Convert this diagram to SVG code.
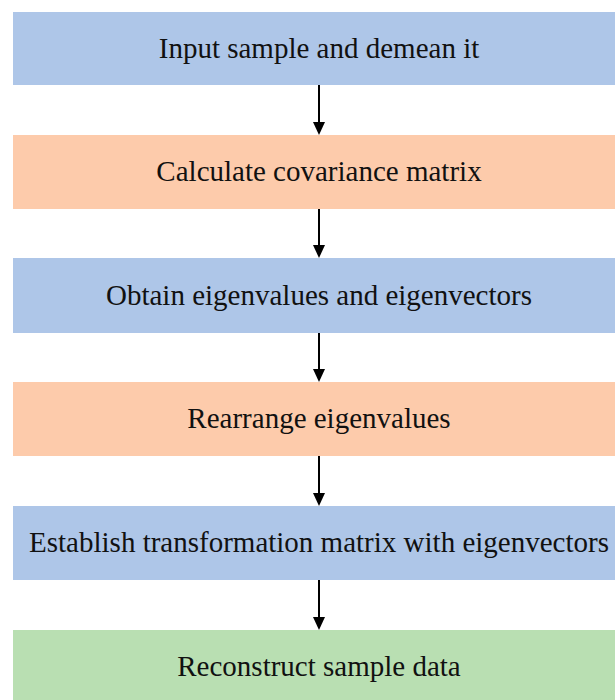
<svg xmlns="http://www.w3.org/2000/svg" width="615" height="700" viewBox="0 0 615 700">
<defs>
<style>
.blue{fill:#aec6e8}
.orange{fill:#fdcbab}
.green{fill:#b9dfb2}
.lbl{font-family:"Liberation Serif","Times New Roman","DejaVu Serif",serif;font-size:29px;fill:#111;text-anchor:middle}
.line{stroke:#000;stroke-width:2}
.head{fill:#000}
</style>
</defs>
<rect width="615" height="700" fill="#fff"/>
<g id="connectors">
<line class="line" x1="319" y1="85" x2="319" y2="123"/>
<path class="head" d="M313,122 L325,122 L319,135 Z"/>
<line class="line" x1="319" y1="209" x2="319" y2="246"/>
<path class="head" d="M313,245 L325,245 L319,258 Z"/>
<line class="line" x1="319" y1="333" x2="319" y2="370"/>
<path class="head" d="M313,369 L325,369 L319,382 Z"/>
<line class="line" x1="319" y1="456" x2="319" y2="494"/>
<path class="head" d="M313,493 L325,493 L319,506 Z"/>
<line class="line" x1="319" y1="580" x2="319" y2="618"/>
<path class="head" d="M313,617 L325,617 L319,630 Z"/>
</g>
<g id="n1"><rect class="blue" x="13" y="12" width="602" height="73"/><text class="lbl" font-family="Liberation Serif, serif" x="319" y="58">Input sample and demean it</text></g>
<g id="n2"><rect class="orange" x="13" y="135" width="602" height="74"/><text class="lbl" font-family="Liberation Serif, serif" x="319" y="181">Calculate covariance matrix</text></g>
<g id="n3"><rect class="blue" x="13" y="258" width="602" height="75"/><text class="lbl" font-family="Liberation Serif, serif" x="319" y="305">Obtain eigenvalues and eigenvectors</text></g>
<g id="n4"><rect class="orange" x="13" y="382" width="602" height="74"/><text class="lbl" font-family="Liberation Serif, serif" x="319" y="428">Rearrange eigenvalues</text></g>
<g id="n5"><rect class="blue" x="13" y="506" width="602" height="74"/><text class="lbl" font-family="Liberation Serif, serif" x="319" y="552">Establish transformation matrix with eigenvectors</text></g>
<g id="n6"><rect class="green" x="13" y="630" width="602" height="70"/><text class="lbl" font-family="Liberation Serif, serif" x="319" y="676">Reconstruct sample data</text></g>
</svg>
